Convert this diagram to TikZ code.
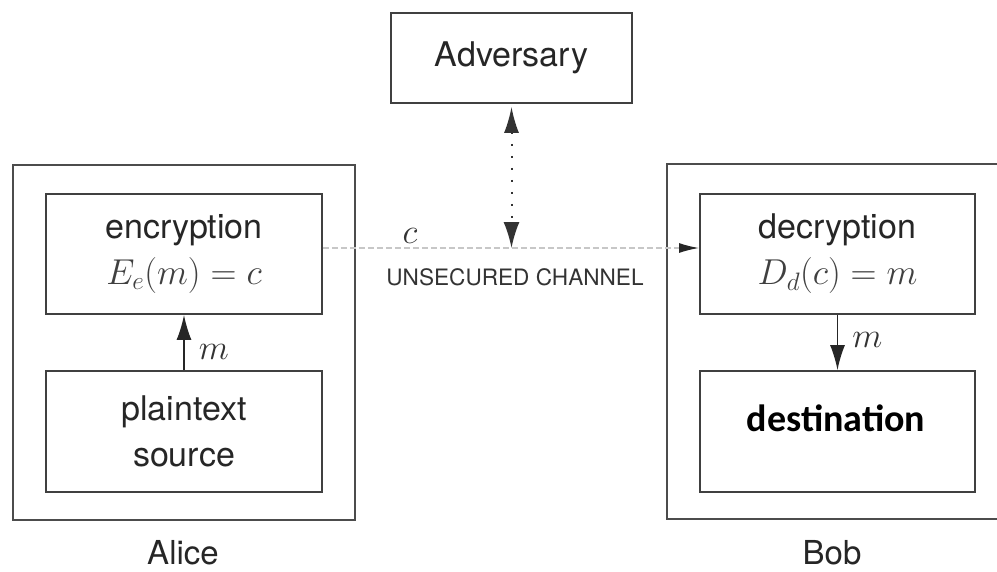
\RequirePackage{fix-cm}
\documentclass[tikz,border=0pt]{standalone}
\usepackage{fontspec}
\setsansfont{TeX Gyre Heros}
\newfontfamily\calfont{Carlito}
\usetikzlibrary{arrows.meta}
\newcommand{\boxmath}[1]{{\fontsize{36}{46}\selectfont\color{black!75}$#1$}}
\begin{document}
\begin{tikzpicture}[x=1pt,y=-1pt,
  box/.style={draw=black!75, line width=1.8pt, inner sep=0pt, text=black!85},
  outer/.style={draw=black!70, line width=2.2pt, inner sep=0pt},
  big/.style={font=\sffamily\fontsize{34}{46}\selectfont},
  lab/.style={font=\sffamily\fontsize{33}{40}\selectfont, text=black!85, inner sep=0pt},
  mlab/.style={font=\fontsize{35}{40}\selectfont, text=black!80, inner sep=0pt},
  arr/.style={line width=1.6pt, draw=black!85, -{Latex[length=25pt,width=15pt]}},
  dotarr/.style={line width=2pt, draw=black!80, dash pattern=on 2pt off 10pt,
    {Latex[length=26pt,width=15pt]}-{Latex[length=26pt,width=16pt]}},
  chan/.style={line width=1.5pt, draw=black!22, dash pattern=on 6pt off 3pt,
    -{Latex[length=20pt,width=10pt,color=black!85]}}
]
\clip (0,0) rectangle (997,571);
\fill[white] (0,0) rectangle (997,571);

% Adversary
\node[box, big, minimum width=241pt, minimum height=90pt] (adv) at (511.5,58) {Adversary};

% Alice
\node[outer, minimum width=342pt, minimum height=355pt] (alice) at (184,342.5) {};
\node[box, big, align=center, minimum width=276pt, minimum height=120pt] (enc) at (184,254)
  {encryption\\ \boxmath{E_e(m)=c}};
\node[box, big, align=center, minimum width=276pt, minimum height=121pt] (src) at (184,431.5)
  {plaintext\\ source};
\node[lab] (alicelab) at (183,553) {Alice};

% Bob
\node[outer, minimum width=334pt, minimum height=355pt] (bob) at (834,341.5) {};
\node[box, big, align=center, minimum width=275pt, minimum height=120pt] (dec) at (837.5,254)
  {decryption\\ \boxmath{D_d(c)=m}};
\node[box, minimum width=275pt, minimum height=121pt] (dst) at (837.5,431.5) {};
\node[font=\calfont\bfseries\fontsize{38}{44}\selectfont, text=black] (dsttxt) at (836,418) {destination};
\node[lab] (boblab) at (832,553) {Bob};

% arrows inside
\draw[arr] (src.north) -- node[pos=0.33, right=14pt, mlab] (m1) {$m$} (enc.south);
\draw[arr] (dec.south) -- node[pos=0.45, right=14pt, mlab] (m2) {$m$} (dst.north);

% channel
\coordinate (chA) at ([yshift=6pt]enc.east);
\coordinate (chB) at ([yshift=6pt]dec.west);
\draw[chan] (chA) -- (chB);
\coordinate (tap) at (adv.south |- chA);
\draw[dotarr] ([yshift=-3pt]adv.south) -- (tap);

\node[mlab] (clab) at (410,236) {$c$};
\node[font=\sffamily\fontsize{22.6}{26}\selectfont, text=black!80] (uc) at (515,277) {UNSECURED CHANNEL};
\end{tikzpicture}
\end{document}
